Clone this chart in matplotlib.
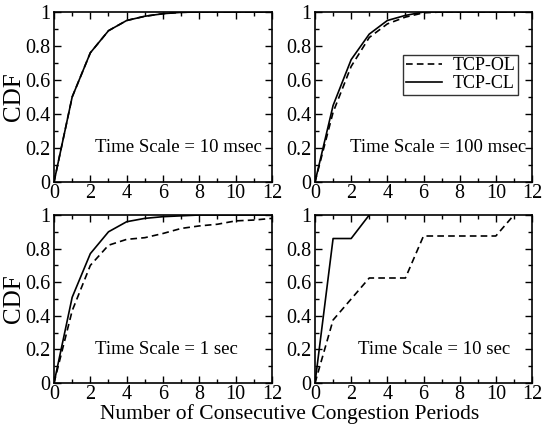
import matplotlib
matplotlib.use("Agg")
import matplotlib.pyplot as plt
from matplotlib.ticker import MultipleLocator, FuncFormatter

plt.rcParams['font.family'] = ['Liberation Serif', 'DejaVu Serif']
plt.rcParams['mathtext.fontset'] = 'stix'

x_vals = list(range(13))

# Time Scale = 10 msec
ol_10ms = [0, 0.50, 0.76, 0.89, 0.95, 0.975, 0.99, 0.998, 1.0, 1.0, 1.0, 1.0, 1.0]
cl_10ms = [0, 0.50, 0.76, 0.89, 0.95, 0.975, 0.99, 0.998, 1.0, 1.0, 1.0, 1.0, 1.0]
# Time Scale = 100 msec
ol_100ms = [0, 0.41, 0.68, 0.85, 0.93, 0.97, 0.995, 1.0, 1.0, 1.0, 1.0, 1.0, 1.0]
cl_100ms = [0, 0.45, 0.72, 0.87, 0.95, 0.98, 1.0, 1.0, 1.0, 1.0, 1.0, 1.0, 1.0]
# Time Scale = 1 sec
ol_1s = [0, 0.43, 0.70, 0.82, 0.855, 0.865, 0.89, 0.92, 0.935, 0.945, 0.965, 0.97, 0.98]
cl_1s = [0, 0.51, 0.77, 0.90, 0.96, 0.98, 0.99, 0.995, 1.0, 1.0, 1.0, 1.0, 1.0]
# Time Scale = 10 sec
x_10s_ol = list(range(12))
ol_10s = [0, 0.375, 0.5, 0.625, 0.625, 0.625, 0.875, 0.875, 0.875, 0.875, 0.875, 1.0]
x_10s_cl = [0, 1, 2, 3]
cl_10s = [0, 0.86, 0.86, 1.0]

labels = ["Time Scale = 10 msec", "Time Scale = 100 msec", "Time Scale = 1 sec", "Time Scale = 10 sec"]
series_names = ["TCP-OL", "TCP-CL"]

fig = plt.figure(figsize=(5.43, 4.26), dpi=100)
W, H = 543, 426
boxes = [(54, 12, 272, 182), (315, 12, 532, 182), (54, 215, 272, 383), (315, 215, 532, 383)]
axes = []
for (l, t, r, b) in boxes:
    axes.append(fig.add_axes([l / W, 1 - b / H, (r - l) / W, (b - t) / H]))

data = [
    (x_vals, ol_10ms, x_vals, cl_10ms),
    (x_vals, ol_100ms, x_vals, cl_100ms),
    (x_vals, ol_1s, x_vals, cl_1s),
    (x_10s_ol, ol_10s, x_10s_cl, cl_10s),
]
text_pos = [(0.955, 0.2, 'right'), (0.975, 0.2, 'right'), (0.19, 0.2, 'left'), (0.2, 0.2, 'left')]

fmt = FuncFormatter(lambda v, p: "%g" % round(v, 1))
for i, ax in enumerate(axes):
    xo, yo, xc, yc = data[i]
    ax.plot(xo, yo, color='black', lw=1.2, ls=(0, (4, 2.5)), label=series_names[0])
    ax.plot(xc, yc, color='black', lw=1.2, ls='-', label=series_names[1])
    ax.set_xlim(0, 12)
    ax.set_ylim(0, 1)
    ax.xaxis.set_major_locator(MultipleLocator(2))
    ax.xaxis.set_minor_locator(MultipleLocator(1))
    ax.yaxis.set_major_locator(MultipleLocator(0.2))
    ax.yaxis.set_minor_locator(MultipleLocator(0.1))
    ax.yaxis.set_major_formatter(fmt)
    ax.tick_params(which='both', direction='in', top=True, right=True, labelsize=14.5)
    ax.tick_params(axis='x', pad=1.5)
    ax.tick_params(axis='y', pad=2.5)
    ax.tick_params(which='major', length=5, width=1)
    ax.tick_params(which='minor', length=3, width=1)
    for s in ax.spines.values():
        s.set_linewidth(1.2)
    tx, ty, ha = text_pos[i]
    ax.text(tx, ty, labels[i], transform=ax.transAxes, ha=ha, va='center', fontsize=13.5)

axes[0].set_ylabel("CDF", fontsize=18, labelpad=0)
axes[2].set_ylabel("CDF", fontsize=18, labelpad=0)

leg = axes[1].legend(loc='upper left', bbox_to_anchor=(0.405, 0.75), fontsize=13,
                     frameon=True, fancybox=False, edgecolor='black', borderpad=0.15,
                     handlelength=2.0, handletextpad=0.6, labelspacing=0.05, borderaxespad=0)
leg.get_frame().set_linewidth(1.0)

fig.text(290 / W, 1 - 419 / H, "Number of Consecutive Congestion Periods", ha='center', va='baseline', fontsize=15.5)

fig.savefig("out.png", dpi=100)
